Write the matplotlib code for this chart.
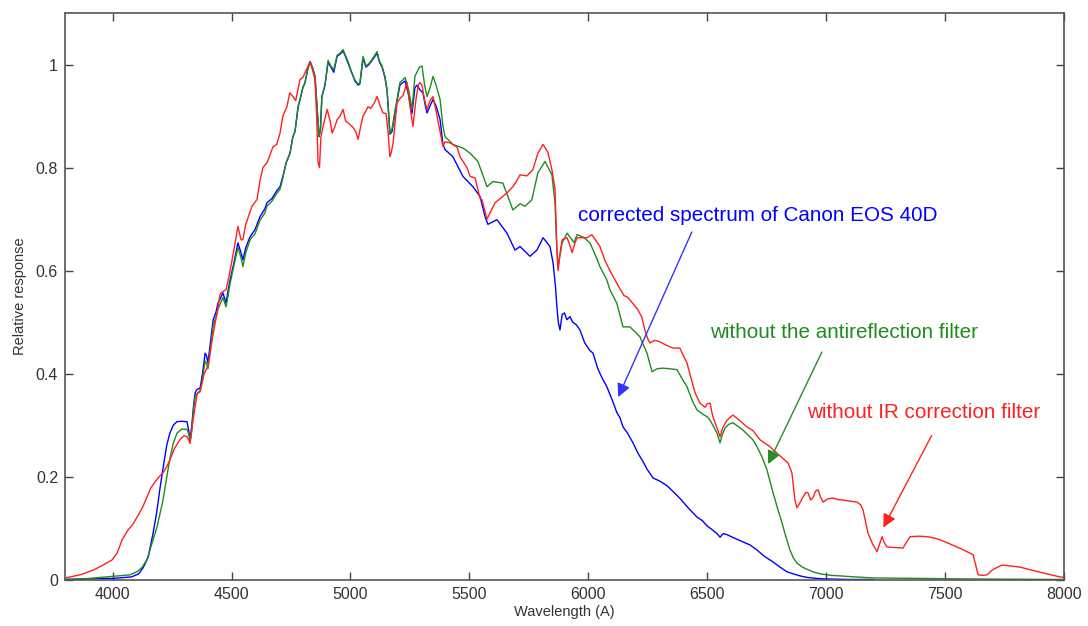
import matplotlib
matplotlib.use("Agg")
import matplotlib.pyplot as plt
import numpy as np

# corrected spectrum of Canon EOS 40D (blue)
wl_blue = [3800, 3900, 4000, 4080, 4110, 4130, 4150, 4170, 4185, 4200, 4215, 4228, 4241, 4255, 4270,
           4290, 4313, 4320, 4326, 4333, 4340, 4347, 4355, 4368, 4378, 4389, 4395, 4401, 4410, 4423,
           4435, 4443, 4452, 4464, 4477, 4485, 4494, 4510, 4527, 4540, 4548, 4560, 4578, 4599, 4620,
           4640, 4649, 4670, 4690, 4704, 4716, 4730, 4746, 4758, 4767, 4780, 4788, 4800, 4809, 4820,
           4830, 4840, 4851, 4858, 4864, 4868, 4874, 4880, 4893, 4906, 4918, 4930, 4944, 4956, 4969,
           4980, 4990, 5005, 5019, 5032, 5040, 5053, 5065, 5078, 5091, 5112, 5122, 5133, 5145, 5154,
           5160, 5166, 5175, 5187, 5196, 5208, 5220, 5230, 5245, 5259, 5265, 5271, 5280, 5292, 5305,
           5315, 5322, 5335, 5347, 5360, 5377, 5389, 5398, 5431, 5473, 5515, 5545, 5566, 5578, 5616,
           5658, 5692, 5713, 5755, 5784, 5810, 5839, 5852, 5862, 5868, 5874, 5881, 5890, 5900, 5910,
           5923, 5935, 5950, 5965, 5985, 6007, 6020, 6040, 6060, 6078, 6100, 6120, 6133, 6146, 6165,
           6188, 6210, 6230, 6247, 6262, 6272, 6300, 6331, 6360, 6386, 6420, 6457, 6480, 6499, 6520,
           6541, 6554, 6567, 6583, 6620, 6650, 6680, 6710, 6740, 6777, 6806, 6835, 6861, 6890, 6920,
           6961, 7000, 7100, 7200]
resp_blue = [0.001, 0.002, 0.003, 0.006, 0.012, 0.025, 0.045, 0.09, 0.13, 0.18, 0.225, 0.262, 0.285, 0.30, 0.307,
             0.308, 0.307, 0.29, 0.272, 0.30, 0.335, 0.363, 0.37, 0.372, 0.40, 0.44, 0.435, 0.421, 0.455, 0.505,
             0.52, 0.537, 0.545, 0.557, 0.537, 0.56, 0.582, 0.615, 0.654, 0.635, 0.621, 0.645, 0.666, 0.68, 0.705,
             0.72, 0.732, 0.74, 0.755, 0.763, 0.783, 0.81, 0.828, 0.86, 0.87, 0.918, 0.932, 0.955, 0.965, 0.99,
             1.006, 0.995, 0.977, 0.93, 0.887, 0.86, 0.875, 0.938, 0.96, 1.005, 0.995, 0.985, 1.016, 1.02, 1.026,
             1.015, 1.003, 0.985, 0.968, 0.96, 0.963, 1.012, 0.995, 1.0, 1.008, 1.022, 1.005, 0.995, 0.975, 0.95,
             0.91, 0.865, 0.87, 0.905, 0.93, 0.96, 0.965, 0.968, 0.94, 0.905, 0.93, 0.955, 0.96, 0.951, 0.945,
             0.92, 0.906, 0.92, 0.932, 0.92, 0.893, 0.845, 0.835, 0.821, 0.783, 0.763, 0.744, 0.705, 0.69, 0.699,
             0.673, 0.64, 0.647, 0.628, 0.64, 0.664, 0.647, 0.615, 0.57, 0.53, 0.50, 0.485, 0.515, 0.518, 0.505,
             0.511, 0.50, 0.495, 0.485, 0.46, 0.445, 0.44, 0.41, 0.39, 0.375, 0.35, 0.325, 0.315, 0.297, 0.285,
             0.266, 0.245, 0.23, 0.215, 0.205, 0.198, 0.192, 0.183, 0.17, 0.158, 0.14, 0.122, 0.115, 0.105, 0.098,
             0.09, 0.083, 0.09, 0.088, 0.08, 0.074, 0.068, 0.058, 0.046, 0.035, 0.025, 0.016, 0.012, 0.008, 0.005,
             0.003, 0.002, 0.001, 0.001]

# without the antireflection filter (green)
wl_green = [3800, 3900, 3950, 4000, 4073, 4103, 4125, 4145, 4165, 4187, 4200, 4212, 4228, 4241, 4255,
            4271, 4292, 4313, 4320, 4326, 4333, 4340, 4347, 4355, 4368, 4378, 4389, 4395, 4401, 4410,
            4423, 4435, 4443, 4452, 4464, 4477, 4485, 4494, 4510, 4527, 4540, 4548, 4560, 4578, 4599,
            4620, 4640, 4649, 4670, 4690, 4704, 4716, 4730, 4746, 4758, 4767, 4780, 4788, 4800, 4809,
            4820, 4830, 4840, 4851, 4858, 4864, 4868, 4874, 4880, 4893, 4906, 4918, 4930, 4944, 4956,
            4969, 4980, 4990, 5005, 5019, 5032, 5040, 5053, 5065, 5078, 5091, 5112, 5122, 5133, 5145,
            5154, 5160, 5166, 5175, 5187, 5196, 5208, 5220, 5230, 5245, 5259, 5271, 5290, 5301, 5312,
            5322, 5335, 5347, 5360, 5377, 5389, 5398, 5431, 5473, 5503, 5536, 5574, 5599, 5641, 5662,
            5683, 5713, 5734, 5763, 5788, 5818, 5847, 5860, 5868, 5873, 5890, 5911, 5925, 5940, 5953,
            5980, 6007, 6030, 6049, 6078, 6091, 6120, 6146, 6175, 6200, 6217, 6247, 6268, 6290, 6314,
            6340, 6373, 6395, 6415, 6440, 6457, 6480, 6499, 6512, 6530, 6541, 6554, 6562, 6575, 6590,
            6608, 6630, 6650, 6670, 6692, 6710, 6730, 6751, 6765, 6777, 6795, 6815, 6830, 6848, 6862,
            6877, 6900, 6919, 6950, 6974, 7020, 7058, 7120, 7197, 7400, 7600, 8000]
resp_green = [0.001, 0.003, 0.005, 0.007, 0.01, 0.016, 0.025, 0.04, 0.07, 0.103, 0.13, 0.155, 0.2, 0.235, 0.265,
              0.285, 0.293, 0.292, 0.285, 0.268, 0.29, 0.33, 0.355, 0.362, 0.365, 0.39, 0.425, 0.42, 0.41, 0.44,
              0.495, 0.51, 0.525, 0.535, 0.548, 0.53, 0.55, 0.575, 0.61, 0.645, 0.625, 0.608, 0.635, 0.66, 0.672,
              0.698, 0.712, 0.725, 0.735, 0.75, 0.758, 0.78, 0.81, 0.828, 0.86, 0.87, 0.918, 0.932, 0.955, 0.965,
              0.99, 1.006, 0.995, 0.977, 0.93, 0.887, 0.86, 0.875, 0.938, 0.96, 1.008, 0.997, 0.99, 1.018, 1.022,
              1.029, 1.017, 1.006, 0.985, 0.97, 0.962, 0.965, 1.016, 0.997, 1.002, 1.01, 1.025, 1.007, 0.997, 0.977,
              0.951, 0.91, 0.867, 0.875, 0.91, 0.932, 0.965, 0.97, 0.975, 0.95, 0.913, 0.977, 0.995, 0.997, 0.96,
              0.938, 0.955, 0.977, 0.96, 0.932, 0.88, 0.86, 0.845, 0.838, 0.828, 0.812, 0.763, 0.773, 0.77, 0.744,
              0.718, 0.73, 0.725, 0.738, 0.79, 0.812, 0.786, 0.732, 0.64, 0.608, 0.654, 0.673, 0.664, 0.655, 0.67,
              0.665, 0.654, 0.63, 0.608, 0.582, 0.563, 0.537, 0.491, 0.491, 0.48, 0.472, 0.44, 0.404, 0.41, 0.411,
              0.41, 0.408, 0.39, 0.375, 0.345, 0.33, 0.322, 0.317, 0.31, 0.295, 0.285, 0.266, 0.28, 0.295, 0.302,
              0.305, 0.298, 0.291, 0.282, 0.272, 0.258, 0.239, 0.214, 0.19, 0.169, 0.14, 0.11, 0.085, 0.058, 0.043,
              0.033, 0.025, 0.021, 0.015, 0.012, 0.009, 0.008, 0.006, 0.004, 0.003, 0.002, 0.001]

# without IR correction filter (red)
wl_red = [3800, 3863, 3918, 3960, 3998, 4019, 4040, 4065, 4085, 4103, 4125, 4145, 4160, 4178, 4195,
          4212, 4228, 4241, 4260, 4283, 4300, 4313, 4320, 4326, 4335, 4355, 4370, 4385, 4401, 4420,
          4440, 4452, 4465, 4477, 4490, 4510, 4527, 4540, 4548, 4560, 4586, 4607, 4620, 4632, 4650,
          4674, 4690, 4704, 4716, 4733, 4745, 4758, 4770, 4788, 4800, 4815, 4830, 4840, 4851, 4858,
          4864, 4870, 4876, 4885, 4902, 4915, 4923, 4935, 4944, 4956, 4969, 4980, 4990, 5011, 5022,
          5032, 5043, 5053, 5065, 5074, 5085, 5100, 5112, 5125, 5137, 5150, 5158, 5166, 5172, 5180,
          5196, 5210, 5221, 5238, 5250, 5263, 5275, 5285, 5292, 5301, 5312, 5322, 5335, 5347, 5360,
          5377, 5389, 5398, 5419, 5448, 5461, 5490, 5503, 5524, 5545, 5553, 5574, 5590, 5608, 5630,
          5658, 5683, 5700, 5713, 5742, 5767, 5788, 5810, 5830, 5847, 5860, 5868, 5873, 5880, 5890,
          5911, 5922, 5932, 5945, 5953, 5975, 5995, 6015, 6030, 6049, 6070, 6091, 6115, 6133, 6150,
          6167, 6188, 6209, 6225, 6238, 6250, 6259, 6280, 6301, 6330, 6356, 6385, 6400, 6415, 6430,
          6449, 6470, 6491, 6500, 6512, 6522, 6533, 6545, 6554, 6565, 6583, 6608, 6630, 6667, 6692,
          6722, 6760, 6793, 6820, 6840, 6856, 6863, 6869, 6877, 6890, 6903, 6915, 6924, 6935, 6945,
          6955, 6966, 6977, 6987, 7005, 7029, 7050, 7071, 7100, 7130, 7145, 7155, 7165, 7176, 7195,
          7214, 7225, 7235, 7245, 7256, 7290, 7323, 7340, 7353, 7390, 7424, 7450, 7479, 7520, 7570,
          7618, 7628, 7639, 7660, 7676, 7700, 7739, 7780, 7815, 7900, 7983, 8000]
resp_red = [0.004, 0.01, 0.019, 0.029, 0.039, 0.052, 0.078, 0.097, 0.108, 0.122, 0.14, 0.161, 0.178, 0.19, 0.2,
            0.208, 0.22, 0.233, 0.255, 0.272, 0.28, 0.278, 0.272, 0.265, 0.3, 0.36, 0.37, 0.40, 0.415, 0.47,
            0.52, 0.555, 0.56, 0.563, 0.59, 0.64, 0.686, 0.66, 0.66, 0.69, 0.725, 0.738, 0.775, 0.80, 0.81,
            0.84, 0.845, 0.867, 0.9, 0.918, 0.945, 0.938, 0.93, 0.971, 0.975, 0.99, 1.005, 0.99, 0.971, 0.9,
            0.81, 0.80, 0.86, 0.88, 0.913, 0.89, 0.867, 0.88, 0.893, 0.90, 0.913, 0.89, 0.887, 0.878, 0.87,
            0.855, 0.88, 0.9, 0.91, 0.918, 0.915, 0.925, 0.938, 0.92, 0.906, 0.905, 0.87, 0.821, 0.83, 0.85,
            0.926, 0.935, 0.94, 0.965, 0.92, 0.88, 0.93, 0.96, 0.965, 0.96, 0.93, 0.913, 0.93, 0.938, 0.91,
            0.87, 0.841, 0.85, 0.848, 0.84, 0.821, 0.80, 0.783, 0.78, 0.74, 0.738, 0.70, 0.715, 0.732, 0.74,
            0.751, 0.763, 0.775, 0.786, 0.784, 0.796, 0.828, 0.845, 0.83, 0.796, 0.76, 0.64, 0.60, 0.63, 0.66,
            0.664, 0.65, 0.635, 0.655, 0.664, 0.664, 0.664, 0.67, 0.66, 0.647, 0.62, 0.60, 0.58, 0.565, 0.552,
            0.548, 0.536, 0.524, 0.51, 0.485, 0.468, 0.46, 0.465, 0.462, 0.455, 0.45, 0.45, 0.435, 0.421, 0.395,
            0.363, 0.343, 0.335, 0.342, 0.343, 0.32, 0.305, 0.29, 0.278, 0.295, 0.31, 0.32, 0.312, 0.297, 0.29,
            0.272, 0.26, 0.246, 0.235, 0.227, 0.208, 0.18, 0.155, 0.14, 0.15, 0.161, 0.17, 0.169, 0.155, 0.16,
            0.172, 0.175, 0.16, 0.151, 0.157, 0.159, 0.156, 0.155, 0.153, 0.151, 0.146, 0.136, 0.115, 0.091, 0.07,
            0.055, 0.07, 0.084, 0.072, 0.064, 0.063, 0.062, 0.075, 0.084, 0.085, 0.084, 0.082, 0.078, 0.07, 0.06,
            0.049, 0.03, 0.01, 0.009, 0.01, 0.02, 0.029, 0.027, 0.025, 0.015, 0.006, 0.005]

x_ticks = [4000, 4500, 5000, 5500, 6000, 6500, 7000, 7500, 8000]
y_ticks = [0, 0.2, 0.4, 0.6, 0.8, 1]
y_tick_labels = ["0", "0.2", "0.4", "0.6", "0.8", "1"]

plt.rcParams['font.family'] = ['Liberation Sans', 'DejaVu Sans']

fig = plt.figure(figsize=(10.88, 6.26), dpi=100)
ax = fig.add_axes([65 / 1088, 1 - 580 / 626, (1064 - 65) / 1088, (580 - 13) / 626])

ax.plot(wl_blue, resp_blue, color="#0000ff", lw=1.0)
ax.plot(wl_green, resp_green, color="#1e8c1e", lw=1.0)
ax.plot(wl_red, resp_red, color="#ff2020", lw=1.0)

ax.set_xlim(3800, 8000)
ax.set_ylim(0, 1.1)
ax.set_xticks(x_ticks)
ax.set_yticks(y_ticks)
ax.set_yticklabels(y_tick_labels)
ax.tick_params(direction="in", length=6, width=1, top=True, right=True,
               labelsize=11.5, colors="#444444", labelcolor="#333333", pad=5)
for sp in ax.spines.values():
    sp.set_color("#555555")
    sp.set_linewidth(1.2)

ax.set_xlabel("Wavelength (A)", fontsize=10.5, color="#333333", labelpad=2)
ax.set_ylabel("Relative response", fontsize=10.5, color="#333333", labelpad=6)

# annotations
ax.annotate("", xy=(6121, 0.35), xytext=(6440, 0.68),
            arrowprops=dict(arrowstyle="-|>", color="#3333ff", lw=1.0, mutation_scale=20))
ax.text(5957, 0.707, "corrected spectrum of Canon EOS 40D", color="#0000ff",
        fontsize=14.9, va="center", ha="left")

ax.annotate("", xy=(6751, 0.22), xytext=(6987, 0.447),
            arrowprops=dict(arrowstyle="-|>", color="#2a8c2a", lw=1.0, mutation_scale=20))
ax.text(6512, 0.48, "without the antireflection filter", color="#1e8c1e",
        fontsize=14.9, va="center", ha="left")

ax.annotate("", xy=(7235, 0.097), xytext=(7449, 0.285),
            arrowprops=dict(arrowstyle="-|>", color="#ff2020", lw=1.0, mutation_scale=20))
ax.text(6920, 0.324, "without IR correction filter", color="#ff2020",
        fontsize=14.9, va="center", ha="left")

fig.savefig("out.png", dpi=100)
